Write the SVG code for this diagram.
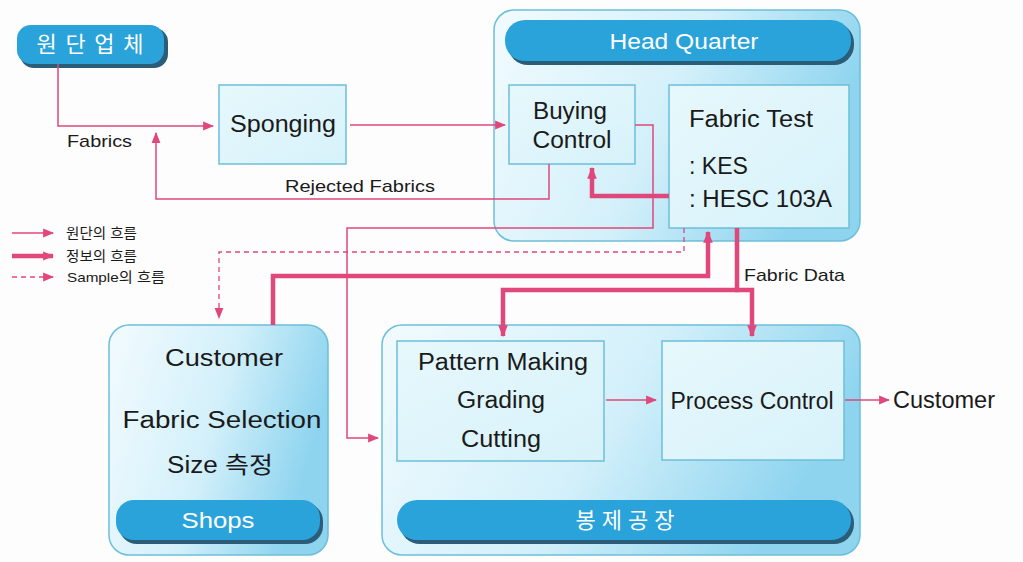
<svg xmlns="http://www.w3.org/2000/svg" width="1023" height="562" viewBox="0 0 1023 562">
<defs>
<linearGradient id="cont" x1="0" y1="0" x2="1" y2="0.3">
<stop offset="0" stop-color="#f2fbfe"/><stop offset="0.55" stop-color="#d3f0fa"/><stop offset="1" stop-color="#8ed4ef"/>
</linearGradient>
<linearGradient id="box" x1="0" y1="0" x2="1" y2="1">
<stop offset="0" stop-color="#e6f8fc"/><stop offset="1" stop-color="#d7f2fa"/>
</linearGradient>
<marker id="ah" viewBox="0 0 10 10" refX="9" refY="5" markerWidth="11" markerHeight="11" markerUnits="userSpaceOnUse" orient="auto"><path d="M0,1 L10,5 L0,9 z" fill="#e0477b"/></marker>
<marker id="ahb" viewBox="0 0 10 10" refX="9" refY="5" markerWidth="12" markerHeight="12" markerUnits="userSpaceOnUse" orient="auto"><path d="M0,1 L10,5 L0,9 z" fill="#e0477b"/></marker>
</defs>
<style>
.cont{fill:url(#cont);stroke:#6cbfd9;stroke-width:1.5}
.box{fill:url(#box);stroke:#6cbfd9;stroke-width:1.5}
.pill{fill:#2aa3da}
.shadow{fill:#2b5c78}
.pt{font-family:"Liberation Sans","Noto Sans CJK KR",sans-serif;fill:#fff;font-size:22px;text-anchor:middle}
.t{font-family:"Liberation Sans","Noto Sans CJK KR",sans-serif;fill:#1a1a1a;font-size:23px}
.c{text-anchor:middle}
.s{font-family:"Liberation Sans","Noto Sans CJK KR",sans-serif;fill:#1a1a1a;font-size:17px}
.lg{font-family:"Liberation Sans","Noto Sans CJK KR",sans-serif;fill:#1a1a1a;font-size:13.5px}
.thin{fill:none;stroke:#e0477b;stroke-width:1.5}
.thick{fill:none;stroke:#e0477b;stroke-width:4.5}
.dash{fill:none;stroke:#e0477b;stroke-width:1.3;stroke-dasharray:5,4}
</style>
<rect width="1023" height="562" fill="#fdfdfd"/>

<g id="supplier">
<rect class="shadow" x="20" y="28" width="148" height="40" rx="14"/>
<rect class="pill" x="17" y="25" width="147" height="39" rx="14"/>
<text class="pt" x="90" y="52" textLength="107" lengthAdjust="spacing">원단업체</text>
</g>

<g id="sponging">
<rect class="box" x="219" y="85" width="127" height="79"/>
<text class="t c" x="283" y="132" textLength="106" lengthAdjust="spacingAndGlyphs">Sponging</text>
</g>

<g id="headquarter">
<rect class="cont" x="494" y="10" width="366" height="231" rx="20"/>
<rect class="shadow" x="508" y="23" width="346" height="42" rx="20"/>
<rect class="pill" x="505" y="20" width="346" height="41" rx="20"/>
<text class="pt" x="684" y="49" textLength="149" lengthAdjust="spacingAndGlyphs">Head Quarter</text>
</g>

<g id="buying-control">
<rect class="box" x="509" y="85" width="126" height="79"/>
<text class="t c" x="570" y="119" textLength="74" lengthAdjust="spacingAndGlyphs">Buying</text>
<text class="t c" x="572" y="148" textLength="79" lengthAdjust="spacingAndGlyphs">Control</text>
</g>

<g id="fabric-test">
<rect class="box" x="669" y="85" width="180" height="143"/>
<text class="t" x="689" y="127" textLength="124" lengthAdjust="spacingAndGlyphs">Fabric Test</text>
<text class="t" x="689" y="174" textLength="59" lengthAdjust="spacingAndGlyphs">: KES</text>
<text class="t" x="689" y="207" textLength="143" lengthAdjust="spacingAndGlyphs">: HESC 103A</text>
</g>

<g id="shops">
<rect class="cont" x="109" y="325" width="219" height="230" rx="20"/>
<text class="t c" x="224" y="366" textLength="118" lengthAdjust="spacingAndGlyphs">Customer</text>
<text class="t c" x="222" y="428" textLength="199" lengthAdjust="spacingAndGlyphs">Fabric Selection</text>
<text class="t c" x="220" y="473" textLength="106" lengthAdjust="spacingAndGlyphs">Size 측정</text>
<rect class="shadow" x="119" y="503" width="204" height="41" rx="18"/>
<rect class="pill" x="116" y="500" width="204" height="40" rx="18"/>
<text class="pt" x="218" y="528" textLength="73" lengthAdjust="spacingAndGlyphs">Shops</text>
</g>

<g id="sewing-factory">
<rect class="cont" x="382" y="325" width="478" height="230" rx="20"/>
<rect class="shadow" x="400" y="503" width="454" height="41" rx="20"/>
<rect class="pill" x="397" y="500" width="454" height="40" rx="20"/>
<text class="pt" x="625" y="528" textLength="99" lengthAdjust="spacing">봉제공장</text>
</g>

<g id="pattern-making">
<rect class="box" x="397" y="341" width="207" height="120"/>
<text class="t c" x="503" y="370" textLength="170" lengthAdjust="spacingAndGlyphs">Pattern Making</text>
<text class="t c" x="501" y="408" textLength="88" lengthAdjust="spacingAndGlyphs">Grading</text>
<text class="t c" x="501" y="447" textLength="80" lengthAdjust="spacingAndGlyphs">Cutting</text>
</g>

<g id="process-control">
<rect class="box" x="662" y="341" width="182" height="119"/>
<text class="t c" x="752" y="409" textLength="163" lengthAdjust="spacingAndGlyphs">Process Control</text>
</g>

<g id="customer">
<text class="t" x="893" y="408" textLength="102" lengthAdjust="spacingAndGlyphs">Customer</text>
</g>

<g id="connectors">
<path class="thin" d="M58,64 V126 H213" marker-end="url(#ah)"/>
<path class="thin" d="M549,164 V199 H156 V133" marker-end="url(#ah)"/>
<path class="thin" d="M350,125 H505" marker-end="url(#ah)"/>
<path class="thin" d="M635,125 H653 V228 H347 V438 H378" marker-end="url(#ah)"/>
<path class="thin" d="M606,400 H656" marker-end="url(#ah)"/>
<path class="thin" d="M845,400 H889" marker-end="url(#ah)"/>
<path class="thick" d="M669,196 H592 V168" marker-end="url(#ahb)"/>
<path class="dash" d="M684,228 V252 H219 V318" marker-end="url(#ah)"/>
<path class="thick" d="M273,325 V276 H708 V232" marker-end="url(#ahb)"/>
<path class="thick" d="M737,228 V290 H503 V336"  marker-end="url(#ahb)"/>
<path class="thick" d="M735,290 H752 V336" marker-end="url(#ahb)"/>
</g>

<g id="labels">
<text class="s" x="67" y="147" textLength="65" lengthAdjust="spacingAndGlyphs">Fabrics</text>
<text class="s" x="285" y="192" textLength="150" lengthAdjust="spacingAndGlyphs">Rejected Fabrics</text>
<text class="s" x="744" y="281" textLength="101" lengthAdjust="spacingAndGlyphs">Fabric Data</text>
</g>

<g id="legend">
<path class="thin" d="M12,233 H53" marker-end="url(#ah)"/>
<path class="thick" d="M12,256 H53" stroke-width="4" marker-end="url(#ah)"/>
<path class="dash" d="M12,277 H53" marker-end="url(#ah)"/>
<text class="lg" x="66" y="238" textLength="71" lengthAdjust="spacingAndGlyphs">원단의 흐름</text>
<text class="lg" x="66" y="261" textLength="71" lengthAdjust="spacingAndGlyphs">정보의 흐름</text>
<text class="lg" x="67" y="282" textLength="98" lengthAdjust="spacingAndGlyphs">Sample의 흐름</text>
</g>
</svg>
